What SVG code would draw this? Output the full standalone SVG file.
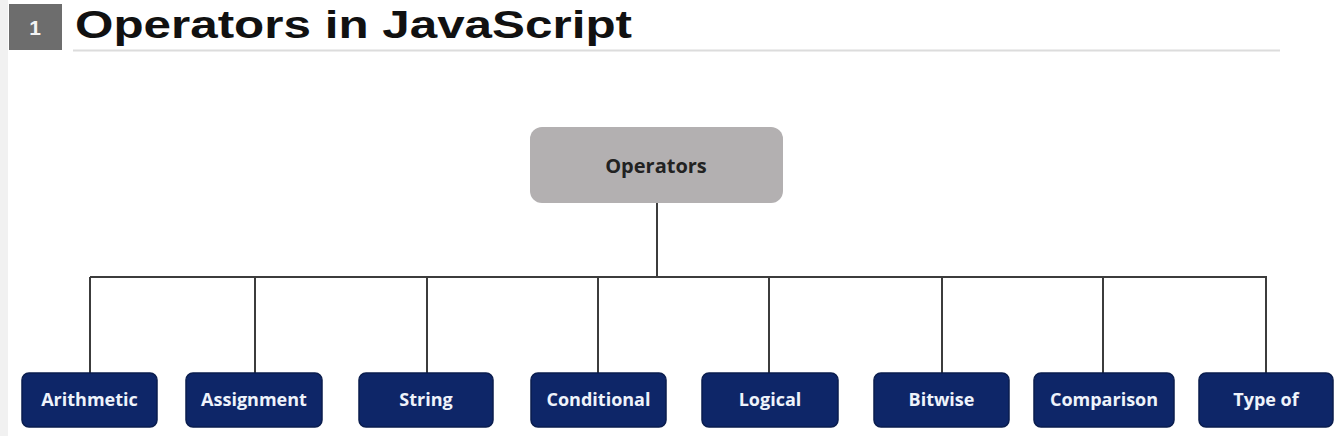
<svg xmlns="http://www.w3.org/2000/svg" width="1338" height="436" viewBox="0 0 1338 436">
<defs>
<style>
.leaf rect{fill:#0e2668;stroke:#0a1d4e;stroke-width:1.5}
.leaf text{fill:#eef3fb;font-family:"Open Sans","Liberation Sans",sans-serif;font-weight:bold;font-size:18px;text-anchor:middle}
.conn{stroke:#3c3c3c;stroke-width:2;fill:none}
</style>
</defs>
<rect width="1338" height="436" fill="#ffffff"/>
<rect x="0" y="0" width="8" height="436" fill="#f1f1f1"/>
<g id="title">
<rect x="9" y="4" width="53" height="46" fill="#6d6d6d"/>
<text x="35" y="35" fill="#f4f4f4" font-family="'Liberation Sans',sans-serif" font-weight="bold" font-size="21" text-anchor="middle">1</text>
<text x="75" y="38" fill="#111111" font-family="'Liberation Sans',Arial,sans-serif" font-weight="bold" font-size="38" textLength="557" lengthAdjust="spacingAndGlyphs">Operators in JavaScript</text>
<line x1="73" y1="50.5" x2="1280" y2="50.5" stroke="#dcdcdc" stroke-width="2"/>
</g>
<g id="connectors">
<path class="conn" d="M657 203V277M90 277H1267M90 277V373M255 277V373M427 277V373M598 277V373M769 277V373M942 277V373M1103 277V373M1266 277V373"/>
</g>
<g id="operators">
<rect x="530" y="127" width="253" height="76" rx="12" fill="#b3b0b1"/>
<text x="656" y="173" fill="#222222" font-family="'Open Sans','Liberation Sans',sans-serif" font-weight="bold" font-size="20" text-anchor="middle">Operators</text>
</g>
<g id="arithmetic" class="leaf"><rect x="22" y="373" width="135" height="54" rx="7"/><text x="89.5" y="406">Arithmetic</text></g>
<g id="assignment" class="leaf"><rect x="186" y="373" width="136" height="54" rx="7"/><text x="254" y="406">Assignment</text></g>
<g id="string" class="leaf"><rect x="359" y="373" width="134" height="54" rx="7"/><text x="426" y="406">String</text></g>
<g id="conditional" class="leaf"><rect x="531" y="373" width="135" height="54" rx="7"/><text x="598.5" y="406">Conditional</text></g>
<g id="logical" class="leaf"><rect x="702" y="373" width="136" height="54" rx="7"/><text x="770" y="406">Logical</text></g>
<g id="bitwise" class="leaf"><rect x="874" y="373" width="135" height="54" rx="7"/><text x="941.5" y="406">Bitwise</text></g>
<g id="comparison" class="leaf"><rect x="1034" y="373" width="140" height="54" rx="7"/><text x="1104" y="406">Comparison</text></g>
<g id="typeof" class="leaf"><rect x="1199" y="373" width="134" height="54" rx="7"/><text x="1266" y="406">Type of</text></g>
</svg>
